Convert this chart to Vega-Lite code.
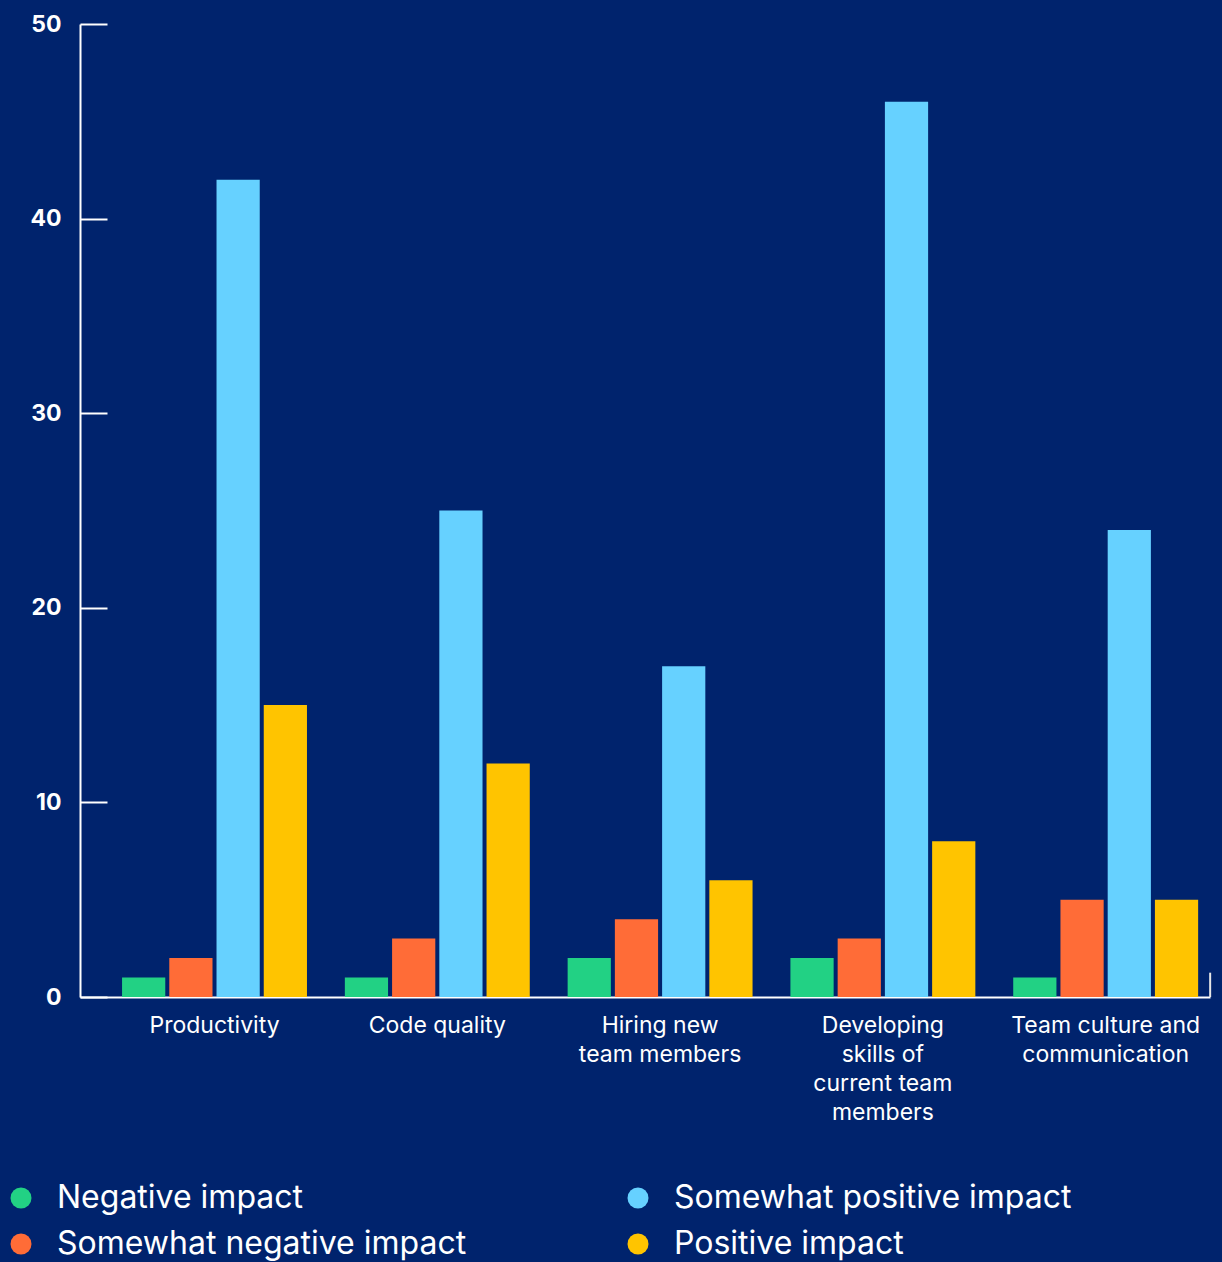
{
  "$schema": "https://vega.github.io/schema/vega-lite/v6.json",
  "width": 1130,
  "height": 973,
  "autosize": {"type": "none"},
  "padding": {"left": 80, "top": 24, "right": 12, "bottom": 265},
  "background": "#00236D",
  "config": {
    "view": {"stroke": null},
    "font": "Inter"
  },
  "data": {
    "values": [
      {"area": "Productivity", "impact": "Negative impact", "value": 1},
      {"area": "Productivity", "impact": "Somewhat negative impact", "value": 2},
      {"area": "Productivity", "impact": "Somewhat positive impact", "value": 42},
      {"area": "Productivity", "impact": "Positive impact", "value": 15},
      {"area": "Code quality", "impact": "Negative impact", "value": 1},
      {"area": "Code quality", "impact": "Somewhat negative impact", "value": 3},
      {"area": "Code quality", "impact": "Somewhat positive impact", "value": 25},
      {"area": "Code quality", "impact": "Positive impact", "value": 12},
      {"area": "Hiring new team members", "impact": "Negative impact", "value": 2},
      {"area": "Hiring new team members", "impact": "Somewhat negative impact", "value": 4},
      {"area": "Hiring new team members", "impact": "Somewhat positive impact", "value": 17},
      {"area": "Hiring new team members", "impact": "Positive impact", "value": 6},
      {"area": "Developing skills of current team members", "impact": "Negative impact", "value": 2},
      {"area": "Developing skills of current team members", "impact": "Somewhat negative impact", "value": 3},
      {"area": "Developing skills of current team members", "impact": "Somewhat positive impact", "value": 46},
      {"area": "Developing skills of current team members", "impact": "Positive impact", "value": 8},
      {"area": "Team culture and communication", "impact": "Negative impact", "value": 1},
      {"area": "Team culture and communication", "impact": "Somewhat negative impact", "value": 5},
      {"area": "Team culture and communication", "impact": "Somewhat positive impact", "value": 24},
      {"area": "Team culture and communication", "impact": "Positive impact", "value": 5}
    ]
  },
  "layer": [
    {
      "mark": {"type": "bar"},
      "encoding": {
        "x": {
          "field": "area",
          "type": "nominal",
          "sort": null,
          "scale": {
            "domain": ["Productivity", "Code quality", "Hiring new team members", "Developing skills of current team members", "Team culture and communication"],
            "paddingInner": 0.17,
            "paddingOuter": 0.121,
            "align": 0.78
          },
          "axis": {
            "title": null,
            "labelAngle": 0,
            "ticks": false,
            "domainColor": "#FFFFFF",
            "domainWidth": 2,
            "labelColor": "#FFFFFF",
            "labelFontSize": 23,
            "labelFont": "Inter",
            "labelFontWeight": 400,
            "labelPadding": 17,
            "labelLineHeight": 29,
            "labelLimit": 300,
            "labelExpr": "datum.label == 'Hiring new team members' ? ['Hiring new', 'team members'] : datum.label == 'Developing skills of current team members' ? ['Developing', 'skills of', 'current team', 'members'] : datum.label == 'Team culture and communication' ? ['Team culture and', 'communication'] : datum.label"
          }
        },
        "xOffset": {
          "field": "impact",
          "type": "nominal",
          "scale": {
            "domain": ["Negative impact", "Somewhat negative impact", "Somewhat positive impact", "Positive impact"],
            "paddingInner": 0.085,
            "paddingOuter": 0
          }
        },
        "y": {
          "field": "value",
          "type": "quantitative",
          "scale": {"domain": [0, 50]},
          "axis": {
            "title": null,
            "values": [0, 10, 20, 30, 40, 50],
            "grid": false,
            "domainColor": "#FFFFFF",
            "domainWidth": 2,
            "tickColor": "#FFFFFF",
            "tickWidth": 2,
            "tickSize": -27,
            "labelPadding": 46,
            "labelColor": "#FFFFFF",
            "labelFontSize": 23,
            "labelFontWeight": 700,
            "labelFont": "Inter"
          }
        },
        "color": {
          "field": "impact",
          "type": "nominal",
          "scale": {
            "domain": ["Negative impact", "Somewhat negative impact", "Somewhat positive impact", "Positive impact"],
            "range": ["#22D184", "#FF6C37", "#66D1FF", "#FFC400"]
          },
          "legend": {
            "title": null,
            "orient": "none",
            "legendX": -75,
            "legendY": 1158,
            "columns": 2,
            "columnPadding": 155,
            "rowPadding": 14,
            "symbolType": "circle",
            "symbolSize": 441,
            "symbolStrokeWidth": 0,
            "labelOffset": 20,
            "labelFontSize": 32,
            "labelColor": "#FFFFFF",
            "labelFont": "Inter",
            "labelLimit": 600
          }
        }
      }
    },
    {
      "data": {"values": [{"edge": "Team culture and communication"}]},
      "mark": {"type": "rule", "color": "#E6E6E6", "strokeWidth": 2},
      "encoding": {
        "x": {"field": "edge", "type": "nominal", "bandPosition": 1.065},
        "y": {"datum": 0},
        "y2": {"datum": 1.25}
      }
    }
  ]
}
